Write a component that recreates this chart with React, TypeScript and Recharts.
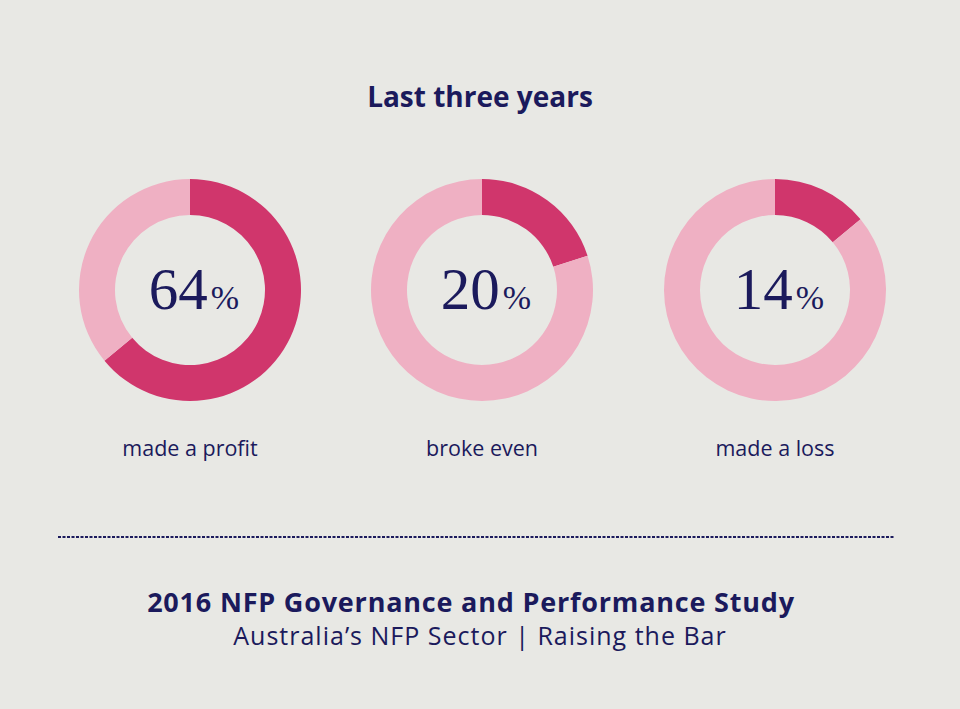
import { PieChart, Pie, Cell } from 'recharts';

const categories = ['made a profit', 'broke even', 'made a loss'];
const shares = [64, 20, 14];

const BG = '#e8e8e4';
const NAVY = '#1b1a5c';
const DARK = '#d0366c';
const LIGHT = '#efb0c3';

const W = 960;
const H = 709;
const centersX = [190, 482, 775];
const CY = 290;

const App = () => {
  return (
    <div style={{ position: 'relative', width: W, height: H, background: BG, overflow: 'hidden' }}>
      <style>{`body{margin:0}`}</style>
      <PieChart
        width={W}
        height={H}
        margin={{ top: 0, right: 0, bottom: 0, left: 0 }}
        style={{ position: 'absolute', left: 0, top: 0 }}
      >
        {shares.map((v, i) => {
          const data = [
            { name: categories[i], value: v },
            { name: 'rest', value: 100 - v },
          ];
          return (
            <Pie
              key={categories[i]}
              data={data}
              dataKey="value"
              cx={centersX[i]}
              cy={CY}
              innerRadius={75}
              outerRadius={111}
              startAngle={90}
              endAngle={-270}
              stroke="none"
              isAnimationActive={false}
            >
              <Cell fill={DARK} />
              <Cell fill={LIGHT} />
            </Pie>
          );
        })}
      </PieChart>
      <svg width={W} height={H} style={{ position: 'absolute', left: 0, top: 0, pointerEvents: 'none' }}>
        <text x={480} y={107} textAnchor="middle" fill={NAVY} fontFamily="Open Sans" fontWeight={700} fontSize={28}>
          Last three years
        </text>
        {shares.map((v, i) => (
          <g key={i}>
            <text x={centersX[i] + 4} y={309} textAnchor="middle" fill={NAVY} fontFamily="Liberation Serif">
              <tspan fontSize={59}>{v}</tspan>
              <tspan fontSize={34} dx={3}>%</tspan>
            </text>
            <text x={centersX[i]} y={456} textAnchor="middle" fill={NAVY} fontFamily="Open Sans" fontSize={21.5}>
              {categories[i]}
            </text>
          </g>
        ))}
        <line x1={58} y1={537} x2={895} y2={537} stroke={NAVY} strokeWidth={2} strokeDasharray="3 1.5" />
        <text
          x={471}
          y={612}
          textAnchor="middle"
          fill={NAVY}
          fontFamily="Open Sans"
          fontWeight={700}
          fontSize={27}
          letterSpacing={0.8}
        >
          2016 NFP Governance and Performance Study
        </text>
        <text x={480} y={645} textAnchor="middle" fill={NAVY} fontFamily="Open Sans" fontSize={25} letterSpacing={1}>
          Australia’s NFP Sector | Raising the Bar
        </text>
      </svg>
    </div>
  );
};

export default App;
